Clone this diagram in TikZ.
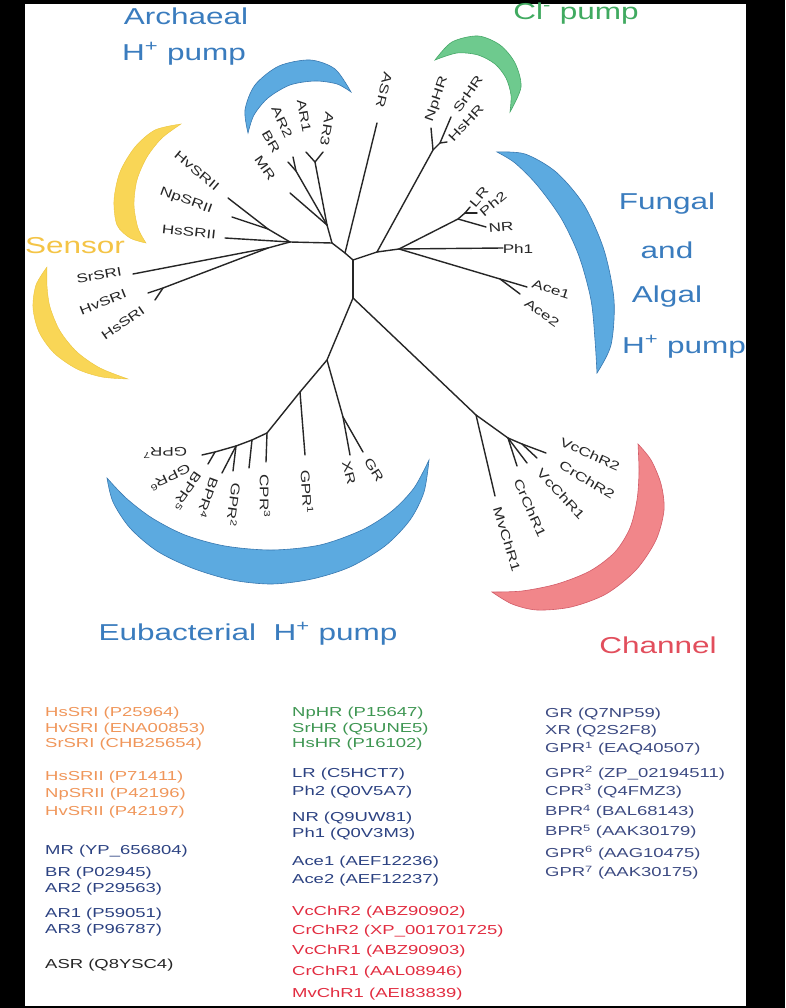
\documentclass[tikz,border=0pt]{standalone}
\usepackage{fontspec}
\setmainfont{Liberation Sans}[FakeStretch=1.37]
\newfontfamily\legfont{Liberation Sans}[FakeStretch=1.42]
\definecolor{tblue}{RGB}{58,124,190}
\definecolor{tgreen}{RGB}{64,170,96}
\definecolor{tyellow}{RGB}{244,196,70}
\definecolor{tred}{RGB}{226,78,92}
\definecolor{cblue}{RGB}{92,170,224}
\definecolor{cblueE}{RGB}{56,120,176}
\definecolor{cgreen}{RGB}{110,202,142}
\definecolor{cgreenE}{RGB}{70,168,104}
\definecolor{cyellow}{RGB}{249,214,86}
\definecolor{cyellowE}{RGB}{236,196,60}
\definecolor{cred}{RGB}{241,134,138}
\definecolor{credE}{RGB}{210,92,104}
\definecolor{lorange}{RGB}{240,150,90}
\definecolor{lnavy}{RGB}{44,66,130}
\definecolor{lgreen}{RGB}{62,150,82}
\definecolor{lred}{RGB}{226,44,64}
\definecolor{lnavytwo}{RGB}{60,74,130}
\begin{document}
\begin{tikzpicture}[x=1pt,y=-1pt,
  branch/.style={line width=1.4pt,draw=black!85,line cap=round},
  leaf/.style={font=\fontsize{12.5}{14}\selectfont,inner sep=0pt,text=black!85},
  ttl/.style={font=\fontsize{23}{26}\selectfont,inner sep=0pt},
  lg/.style={font=\legfont\fontsize{13}{15}\selectfont,anchor=west,inner sep=0pt},
  cresB/.style={fill=cblue,draw=cblueE,line width=0.6pt},
  cresG/.style={fill=cgreen,draw=cgreenE,line width=0.6pt},
  cresY/.style={fill=cyellow,draw=cyellowE,line width=0.4pt},
  cresR/.style={fill=cred,draw=credE,line width=0.6pt}]
\useasboundingbox (0,0) rectangle (785,1008);
\fill[black] (0,0) rectangle (785,1008);
\fill[white] (25,4) rectangle (746,1006);

% ---------- crescents ----------
\filldraw[cresB] plot[smooth] coordinates {(248,133) (245,110) (255,85) (279,66) (310,60) (335,69) (351,92)}
  -- plot[smooth] coordinates {(351,92) (337,84) (315,81) (290,85) (268,98) (254,115) (248,133)} -- cycle;
\filldraw[cresG] plot[smooth] coordinates {(435,60) (452,42) (478,36) (500,45) (515,63) (521,87) (510,112)}
  -- plot[smooth] coordinates {(510,112) (511,95) (506,78) (495,64) (478,55) (457,53) (435,60)} -- cycle;
\filldraw[cresB] plot[smooth] coordinates {(497,152) (525,154) (556,172) (584,205) (604,250) (614,300) (611,345) (597,373)}
  -- plot[smooth] coordinates {(597,373) (595,340) (591,300) (579,256) (561,218) (537,185) (515,163) (497,152)} -- cycle;
\filldraw[cresY] plot[smooth] coordinates {(181,124) (155,130) (135,147) (120,172) (114,200) (117,225) (130,238) (146,243)}
  -- plot[smooth] coordinates {(146,243) (138,228) (134,205) (137,180) (147,157) (162,138) (181,124)} -- cycle;
\filldraw[cresY] plot[smooth] coordinates {(47,267) (36,285) (33,308) (39,332) (54,353) (77,369) (102,377) (128,379)}
  -- plot[smooth] coordinates {(128,379) (100,368) (77,352) (60,331) (50,307) (47,286) (47,267)} -- cycle;
\filldraw[cresB] plot[smooth] coordinates {(107,478) (113,502) (130,528) (157,551) (192,568) (232,580) (272,584) (312,579) (350,567) (385,546) (410,520) (424,492) (429,460)}
  -- plot[smooth] coordinates {(429,460) (414,488) (392,511) (362,530) (320,545) (272,550) (225,546) (185,535) (152,518) (126,498) (107,478)} -- cycle;
\filldraw[cresR] plot[smooth] coordinates {(638,444) (651,460) (661,484) (664,510) (656,540) (636,570) (606,594) (571,607) (537,610) (512,604) (492,592)}
  -- plot[smooth] coordinates {(492,592) (522,591) (557,584) (590,571) (615,552) (630,528) (637,500) (639,472) (638,444)} -- cycle;

% ---------- titles ----------
\node[ttl,text=tblue] (ttArchA) at (186,16) {Archaeal};
\node[ttl,text=tblue] (ttArchB) at (184,54) {H\textsuperscript{+} pump};
\node[ttl,text=tgreen] (ttCl) at (576,14) {Cl\textsuperscript{-} pump};
\node[ttl,text=tblue] (ttFunA) at (667,204) {Fungal};
\node[ttl,text=tblue] (ttFunB) at (667,250) {and};
\node[ttl,text=tblue] (ttFunC) at (667,297) {Algal};
\node[ttl,text=tblue] (ttFunD) at (684,347) {H\textsuperscript{+} pump};
\node[ttl,text=tyellow] (ttSen) at (75,246) {Sensor};
\node[ttl,text=tblue] (ttEub) at (248,634) {Eubacterial\ \ H\textsuperscript{+} pump};
\node[ttl,text=tred] (ttCha) at (658,645) {Channel};

% ---------- tree coordinates ----------
\coordinate (nL) at (290,242);
\coordinate (nA) at (332,243);
\coordinate (nC) at (345,253);
\coordinate (nD) at (353,260);
\coordinate (nR) at (377,252);
\coordinate (nB) at (353,298);
% sensor
\coordinate (nS2) at (268,229);
\coordinate (tHvSRII) at (228,198);
\coordinate (tNpSRII) at (232,217);
\coordinate (tHsSRII) at (225,238);
\coordinate (nS1) at (268,248);
\coordinate (tSrSRI) at (133,274);
\coordinate (nS1b) at (163,288);
\coordinate (tHvSRI) at (148,293);
\coordinate (tHsSRI) at (155,300);
% archaeal
\coordinate (nA1) at (327,225);
\coordinate (tMR) at (290,193);
\coordinate (nA2) at (296,171);
\coordinate (tBR) at (288,162);
\coordinate (tARtwo) at (293,157);
\coordinate (nA3) at (315,162);
\coordinate (tARone) at (306,152);
\coordinate (tARthree) at (323,152);
\coordinate (tASR) at (377,123);
% Cl pump
\coordinate (nCl) at (433,150);
\coordinate (tNpHR) at (431,128);
\coordinate (nCl2) at (440,143);
\coordinate (tSrHR) at (451,117);
\coordinate (tHsHR) at (447,142);
% fungal
\coordinate (nF) at (399,249);
\coordinate (nLR) at (458,219);
\coordinate (nLR2) at (465,213);
\coordinate (tLR) at (470,207);
\coordinate (tPh2) at (477,213);
\coordinate (tNR) at (486,227);
\coordinate (tPh1) at (503,248);
\coordinate (nAce) at (500,279);
\coordinate (tAce1) at (527,287);
\coordinate (tAce2) at (520,294);
% eubacterial
\coordinate (nE) at (327,360);
\coordinate (nGX) at (343,417);
\coordinate (tXR) at (350,455);
\coordinate (tGR) at (363,452);
\coordinate (nG1) at (300,392);
\coordinate (tGPR1) at (305,455);
\coordinate (nE2) at (267,433);
\coordinate (tCPR3) at (266,462);
\coordinate (nE3) at (252,440);
\coordinate (tGPR2) at (249,468);
\coordinate (nE4) at (236,446);
\coordinate (tBPR4) at (233,471);
\coordinate (tBPR5) at (222,473);
\coordinate (nE5) at (215,452);
\coordinate (tGPR6) at (208,464);
\coordinate (tGPR7) at (202,455);
% channel
\coordinate (nCh) at (476,415);
\coordinate (tMvChR1) at (495,496);
\coordinate (nCh2) at (508,438);
\coordinate (tCrChR1) at (517,466);
\coordinate (tVcChR1) at (527,463);
\coordinate (nCh3) at (522,444);
\coordinate (tCrChR2) at (537,458);
\coordinate (tVcChR2) at (546,453);

% ---------- branches ----------
\draw[branch] (nL) -- (nA) -- (nC) -- (nD) -- (nR);
\draw[branch] (nD) -- (nB);
\draw[branch] (nC) -- (tASR);
\draw[branch] (nL) -- (tHsSRII);
\draw[branch] (nL) -- (nS2) -- (tHvSRII);
\draw[branch] (nS2) -- (tNpSRII);
\draw[branch] (nL) -- (nS1) -- (tSrSRI);
\draw[branch] (nS1) -- (nS1b) -- (tHvSRI);
\draw[branch] (nS1b) -- (tHsSRI);
\draw[branch] (nA) -- (nA1) -- (tMR);
\draw[branch] (nA1) -- (nA2) -- (tBR);
\draw[branch] (nA2) -- (tARtwo);
\draw[branch] (nA1) -- (nA3) -- (tARone);
\draw[branch] (nA3) -- (tARthree);
\draw[branch] (nR) -- (nCl) -- (tNpHR);
\draw[branch] (nCl) -- (nCl2) -- (tSrHR);
\draw[branch] (nCl2) -- (tHsHR);
\draw[branch] (nR) -- (nF) -- (nLR) -- (tNR);
\draw[branch] (nLR) -- (nLR2) -- (tLR);
\draw[branch] (nLR2) -- (tPh2);
\draw[branch] (nF) -- (tPh1);
\draw[branch] (nF) -- (nAce) -- (tAce1);
\draw[branch] (nAce) -- (tAce2);
\draw[branch] (nB) -- (nE) -- (nGX) -- (tXR);
\draw[branch] (nGX) -- (tGR);
\draw[branch] (nE) -- (nG1) -- (nE2) -- (nE3) -- (nE4) -- (nE5) -- (tGPR7);
\draw[branch] (nG1) -- (tGPR1);
\draw[branch] (nE2) -- (tCPR3);
\draw[branch] (nE3) -- (tGPR2);
\draw[branch] (nE4) -- (tBPR4);
\draw[branch] (nE4) -- (tBPR5);
\draw[branch] (nE5) -- (tGPR6);
\draw[branch] (nB) -- (nCh) -- (tMvChR1);
\draw[branch] (nCh) -- (nCh2) -- (tCrChR1);
\draw[branch] (nCh2) -- (tVcChR1);
\draw[branch] (nCh2) -- (nCh3) -- (tCrChR2);
\draw[branch] (nCh3) -- (tVcChR2);

% ---------- leaf labels ----------
\node[leaf,rotate=-40] (lbHvSRII) at (197,171) {HvSRII};
\node[leaf,rotate=-20] (lbNpSRII) at (186,201) {NpSRII};
\node[leaf,rotate=-6] (lbHsSRII) at (189,232) {HsSRII};
\node[leaf,rotate=10] (lbSrSRI) at (99,275) {SrSRI};
\node[leaf,rotate=22] (lbHvSRI) at (103,302) {HvSRI};
\node[leaf,rotate=35] (lbHsSRI) at (123,323) {HsSRI};
\node[leaf,rotate=-55] (lbMR) at (265,168) {MR};
\node[leaf,rotate=-60] (lbBR) at (271,142) {BR};
\node[leaf,rotate=-65] (lbARtwo) at (282,122) {AR2};
\node[leaf,rotate=-80] (lbARone) at (304,116) {AR1};
\node[leaf,rotate=-100] (lbARthree) at (327,129) {AR3};
\node[leaf,rotate=-104] (lbASR) at (384,90) {ASR};
\node[leaf,rotate=71] (lbNpHR) at (437,99) {NpHR};
\node[leaf,rotate=55] (lbSrHR) at (468,94) {SrHR};
\node[leaf,rotate=47] (lbHsHR) at (466,123) {HsHR};
\node[leaf,rotate=50] (lbLR) at (479,197) {LR};
\node[leaf,rotate=40] (lbPh2) at (493,204) {Ph2};
\node[leaf,rotate=5] (lbNR) at (501,227) {NR};
\node[leaf] (lbPh1) at (518,249) {Ph1};
\node[leaf,rotate=-18] (lbAce1) at (551,289) {Ace1};
\node[leaf,rotate=-35] (lbAce2) at (542,313) {Ace2};
\node[leaf,rotate=-58] (lbGR) at (374,470) {GR};
\node[leaf,rotate=-75] (lbXR) at (349,473) {XR};
\node[leaf,rotate=-87] (lbGPR1) at (307,492) {GPR\textsuperscript{1}};
\node[leaf,rotate=-90] (lbCPR3) at (265,496) {CPR\textsuperscript{3}};
\node[leaf,rotate=-98] (lbGPR2) at (234,505) {GPR\textsuperscript{2}};
\node[leaf,rotate=-110] (lbBPR4) at (208,498) {BPR\textsuperscript{4}};
\node[leaf,rotate=-125] (lbBPR5) at (187,491) {BPR\textsuperscript{5}};
\node[leaf,rotate=-155] (lbGPR6) at (170,478) {GPR\textsuperscript{6}};
\node[leaf,rotate=180] (lbGPR7) at (165,453) {GPR\textsuperscript{7}};
\node[leaf,rotate=-24] (lbVcChR2) at (590,454) {VcChR2};
\node[leaf,rotate=-31] (lbCrChR2) at (587,480) {CrChR2};
\node[leaf,rotate=-47] (lbVcChR1) at (561,494) {VcChR1};
\node[leaf,rotate=-66] (lbCrChR1) at (530,508) {CrChR1};
\node[leaf,rotate=-73] (lbMvChR1) at (507,539) {MvChR1};

% ---------- legend ----------
\node[lg,text=lorange] (lgA1) at (45,713) {HsSRI (P25964)};
\node[lg,text=lorange] (lgA2) at (45,729) {HvSRI (ENA00853)};
\node[lg,text=lorange] (lgA3) at (45,744) {SrSRI (CHB25654)};
\node[lg,text=lorange] (lgA4) at (45,777) {HsSRII (P71411)};
\node[lg,text=lorange] (lgA5) at (45,794) {NpSRII (P42196)};
\node[lg,text=lorange] (lgA6) at (45,812) {HvSRII (P42197)};
\node[lg,text=lnavy] (lgA7) at (45,851) {MR (YP\_656804)};
\node[lg,text=lnavy] (lgA8) at (45,873) {BR (P02945)};
\node[lg,text=lnavy] (lgA9) at (45,889) {AR2 (P29563)};
\node[lg,text=lnavy] (lgA10) at (45,914) {AR1 (P59051)};
\node[lg,text=lnavy] (lgA11) at (45,930) {AR3 (P96787)};
\node[lg,text=black!85] (lgA12) at (45,965) {ASR (Q8YSC4)};

\node[lg,text=lgreen] (lgB1) at (292,713) {NpHR (P15647)};
\node[lg,text=lgreen] (lgB2) at (292,729) {SrHR (Q5UNE5)};
\node[lg,text=lgreen] (lgB3) at (292,744) {HsHR (P16102)};
\node[lg,text=lnavy] (lgB4) at (292,774) {LR (C5HCT7)};
\node[lg,text=lnavy] (lgB5) at (292,792) {Ph2 (Q0V5A7)};
\node[lg,text=lnavy] (lgB6) at (292,818) {NR (Q9UW81)};
\node[lg,text=lnavy] (lgB7) at (292,834) {Ph1 (Q0V3M3)};
\node[lg,text=lnavy] (lgB8) at (292,862) {Ace1 (AEF12236)};
\node[lg,text=lnavy] (lgB9) at (292,880) {Ace2 (AEF12237)};
\node[lg,text=lred] (lgB10) at (292,912) {VcChR2 (ABZ90902)};
\node[lg,text=lred] (lgB11) at (292,931) {CrChR2 (XP\_001701725)};
\node[lg,text=lred] (lgB12) at (292,951) {VcChR1 (ABZ90903)};
\node[lg,text=lred] (lgB13) at (292,972) {CrChR1 (AAL08946)};
\node[lg,text=lred] (lgB14) at (292,994) {MvChR1 (AEI83839)};

\node[lg,text=lnavytwo] (lgC1) at (545,714) {GR (Q7NP59)};
\node[lg,text=lnavytwo] (lgC2) at (545,731) {XR (Q2S2F8)};
\node[lg,text=lnavytwo] (lgC3) at (545,749) {GPR\textsuperscript{1} (EAQ40507)};
\node[lg,text=lnavytwo] (lgC4) at (545,773) {GPR\textsuperscript{2} (ZP\_02194511)};
\node[lg,text=lnavytwo] (lgC5) at (545,791) {CPR\textsuperscript{3} (Q4FMZ3)};
\node[lg,text=lnavytwo] (lgC6) at (545,812) {BPR\textsuperscript{4} (BAL68143)};
\node[lg,text=lnavytwo] (lgC7) at (545,832) {BPR\textsuperscript{5} (AAK30179)};
\node[lg,text=lnavytwo] (lgC8) at (545,853) {GPR\textsuperscript{6} (AAG10475)};
\node[lg,text=lnavytwo] (lgC9) at (545,873) {GPR\textsuperscript{7} (AAK30175)};
\end{tikzpicture}
\end{document}
